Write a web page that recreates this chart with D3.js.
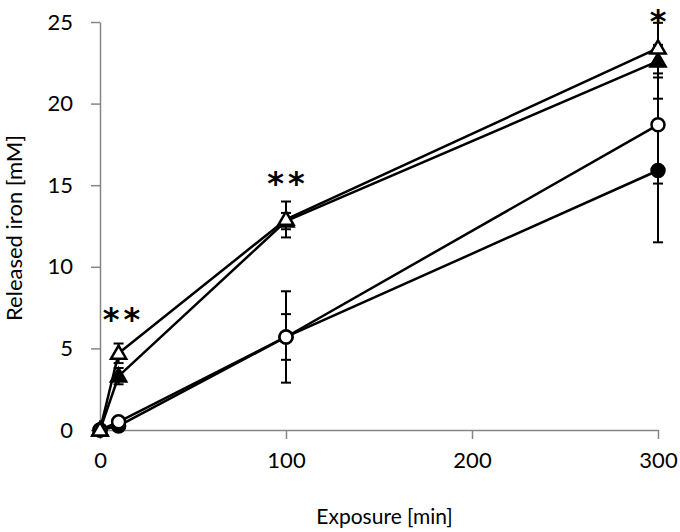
<!DOCTYPE html>
<html>
<head>
<meta charset="utf-8">
<script src="https://cdn.jsdelivr.net/npm/d3@7"></script>
<style>
  body { margin: 0; background: #fff; }
  svg text { font-family: Lato, "Open Sans", sans-serif; }
</style>
</head>
<body>
<svg id="chart"></svg>
<script>
// exposure times (min)
var times = [0, 10, 100, 300];

// released iron (mM) per series, with error bars
var openTriangle = [0, 4.7, 12.9, 23.4];
var openTriangleErr = [0, 0.6, 1.1, 1.55];
var filledTriangle = [0, 3.3, 12.8, 22.6];
var filledTriangleErr = [0, 0.5, 0.5, 1.0];
var openCircle = [0, 0.5, 5.7, 18.7];
var openCircleErr = [0, 0.1, 1.4, 3.6];
var filledCircle = [0, 0.25, 5.7, 15.9];
var filledCircleErr = [0, 0.1, 2.8, 4.4];

var xTicks = [0, 100, 200, 300];
var yTicks = [0, 5, 10, 15, 20, 25];

// significance marks
var starTimes = [10, 100, 300];
var starLabels = ["**", "**", "*"];
var starValues = [7.5, 15.8, 25.75];

var svgWidth = 680, svgHeight = 532;
var margin = { top: 22, right: 22, bottom: 102, left: 100 };
var width = svgWidth - margin.left - margin.right;
var height = svgHeight - margin.top - margin.bottom;

var svg = d3.select("#chart")
    .attr("width", svgWidth)
    .attr("height", svgHeight);

var g = svg.append("g")
    .attr("transform", "translate(" + margin.left + "," + margin.top + ")");

var xScale = d3.scaleLinear()
    .domain([0, 300])
    .range([0, 558]);

var yScale = d3.scaleLinear()
    .domain([0, 25])
    .range([height, 0]);

var axisColor = "#868686";

var xAxis = g.append("g")
    .attr("transform", "translate(0," + height + ")")
    .call(d3.axisBottom(xScale).tickValues(xTicks).tickSize(9).tickSizeOuter(0).tickPadding(13));

var yAxis = g.append("g")
    .call(d3.axisLeft(yScale).tickValues(yTicks).tickSize(9).tickSizeOuter(0).tickPadding(18));

[xAxis, yAxis].forEach(function (ax) {
    ax.select(".domain").attr("stroke", axisColor).attr("stroke-width", 1.5);
    ax.selectAll(".tick line").attr("stroke", axisColor).attr("stroke-width", 1.5);
    ax.selectAll(".tick text")
        .attr("fill", "#000")
        .style("font-size", "22px");
});

svg.append("text")
    .attr("x", margin.left + xScale(153))
    .attr("y", 524)
    .attr("text-anchor", "middle")
    .style("font-size", "21px")
    .text("Exposure [min]");

svg.append("text")
    .attr("transform", "translate(22," + (margin.top + 206) + ") rotate(-90)")
    .attr("text-anchor", "middle")
    .style("font-size", "22px")
    .text("Released iron [mM]");

var series = [
    { values: openTriangle, err: openTriangleErr, shape: "triangle", fill: "#fff" },
    { values: filledTriangle, err: filledTriangleErr, shape: "triangle", fill: "#000" },
    { values: openCircle, err: openCircleErr, shape: "circle", fill: "#fff" },
    { values: filledCircle, err: filledCircleErr, shape: "circle", fill: "#000" }
];

var line = d3.line()
    .x(function (d) { return xScale(d.t); })
    .y(function (d) { return yScale(d.v); });

function points(s) {
    return times.map(function (t, i) { return { t: t, v: s.values[i], e: s.err[i] }; });
}

// error bars
series.forEach(function (s) {
    var eb = g.append("g").selectAll("g")
        .data(points(s).filter(function (d) { return d.e > 0; }))
        .join("g")
        .attr("stroke", "#000")
        .attr("stroke-width", 2);
    eb.append("line")
        .attr("x1", function (d) { return xScale(d.t); })
        .attr("x2", function (d) { return xScale(d.t); })
        .attr("y1", function (d) { return yScale(d.v - d.e); })
        .attr("y2", function (d) { return yScale(d.v + d.e); });
    [-1, 1].forEach(function (sign) {
        eb.append("line")
            .attr("x1", function (d) { return xScale(d.t) - 5; })
            .attr("x2", function (d) { return xScale(d.t) + 5; })
            .attr("y1", function (d) { return yScale(d.v + sign * d.e); })
            .attr("y2", function (d) { return yScale(d.v + sign * d.e); });
    });
});

// lines
series.forEach(function (s) {
    g.append("path")
        .datum(points(s))
        .attr("fill", "none")
        .attr("stroke", "#000")
        .attr("stroke-width", 2.5)
        .attr("stroke-linejoin", "round")
        .attr("d", line);
});

// markers
var triangle = d3.symbol().type(d3.symbolTriangle).size(100);
series.slice().reverse().forEach(function (s) {
    var m = g.append("g").selectAll(".m")
        .data(points(s))
        .join(s.shape === "circle" ? "circle" : "path")
        .attr("fill", s.fill)
        .attr("stroke", "#000")
        .attr("stroke-width", 2.5);
    if (s.shape === "circle") {
        m.attr("cx", function (d) { return xScale(d.t); })
            .attr("cy", function (d) { return yScale(d.v); })
            .attr("r", 6.5);
    } else {
        m.attr("d", triangle)
            .attr("transform", function (d) {
                return "translate(" + xScale(d.t) + "," + (yScale(d.v) + 1) + ")";
            });
    }
});

// asterisks
g.append("g").selectAll("text")
    .data(starTimes)
    .join("text")
    .attr("x", function (d) { return xScale(d); })
    .attr("y", function (d, i) { return yScale(starValues[i]) + 22; })
    .attr("text-anchor", "middle")
    .attr("dx", function (d, i) { return i === 0 ? 5 : (i === 1 ? 2 : 0); })
    .style("font-family", "DejaVu Sans")
    .style("font-size", "32px")
    .style("font-weight", "bold")
    .style("letter-spacing", function (d, i) { return i === 2 ? "0px" : "4px"; })
    .text(function (d, i) { return starLabels[i]; });
</script>
</body>
</html>
